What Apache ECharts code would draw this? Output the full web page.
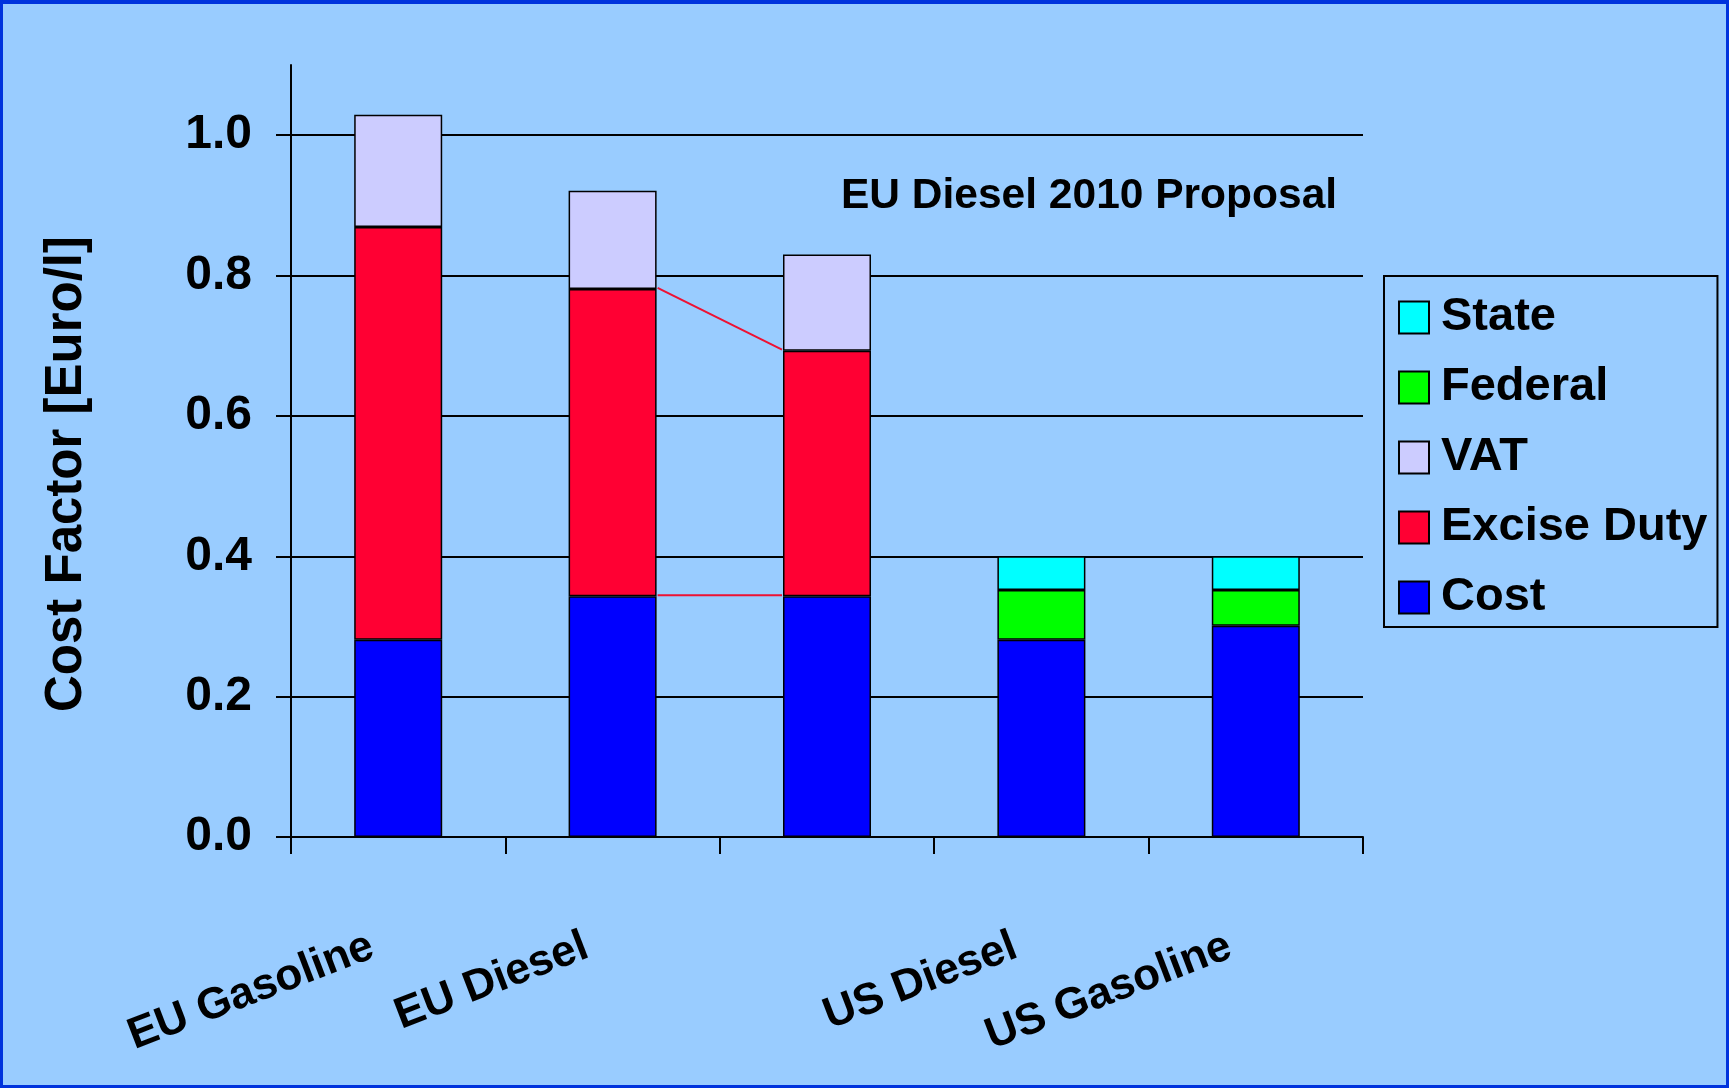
<!DOCTYPE html>
<html>
<head>
<meta charset="utf-8">
<script src="https://cdn.jsdelivr.net/npm/echarts@6/dist/echarts.min.js"></script>
<style>
  html, body { margin: 0; padding: 0; background: #99ccff; }
  #wrap { position: relative; width: 1729px; height: 1088px; }
  #chart { position: absolute; left: 0; top: 0; width: 1729px; height: 1088px; }
  #frame { position: absolute; left: 0; top: 0; right: 0; bottom: 0;
           border-style: solid; border-color: #0033dd; border-width: 4px 3px 3px 3px;
           pointer-events: none; }
</style>
</head>
<body>
<div id="wrap">
  <div id="chart"></div>
  <div id="frame"></div>
</div>
<script>
// categories (the third bar is the EU Diesel 2010 proposal, no axis label)
var categories = ['EU Gasoline', 'EU Diesel', '', 'US Diesel', 'US Gasoline'];

// stacked components, Euro/l
var costData    = [0.281, 0.343, 0.343, 0.281, 0.301];
var exciseData  = [0.588, 0.438, 0.350, null, null];
var vatData     = [0.160, 0.140, 0.137, null, null];
var federalData = [null, null, null, 0.071, 0.051];
var stateData   = [null, null, null, 0.048, 0.048];

var yTicks = [0, 0.2, 0.4, 0.6, 0.8, 1.0];

// series lines between EU Diesel and the proposal bar
var linkPairs = [[1, 2]];

var BAR_W = 88;
var FONT = '"Liberation Sans", Arial, sans-serif';

var connectorData = [];
linkPairs.forEach(function (p) {
    var a = p[0], b = p[1];
    connectorData.push([a, b, costData[a], costData[b]]);
    connectorData.push([a, b, costData[a] + exciseData[a], costData[b] + exciseData[b]]);
});

function renderConnector(params, api) {
    var p1 = api.coord([api.value(0), api.value(2)]);
    var p2 = api.coord([api.value(1), api.value(3)]);
    return {
        type: 'line',
        shape: { x1: p1[0] + BAR_W / 2 + 1, y1: p1[1] - 1, x2: p2[0] - BAR_W / 2 - 1, y2: p2[1] - 1 },
        style: { stroke: '#ee1133', lineWidth: 2 }
    };
}

function barSeries(name, color, data) {
    return {
        name: name,
        type: 'bar',
        stack: 'total',
        barWidth: BAR_W,
        data: data,
        itemStyle: { color: color, borderColor: '#000', borderWidth: 1.5 }
    };
}

var myChart = echarts.init(document.getElementById('chart'));

var option = {
    animation: false,
    backgroundColor: '#99ccff',
    textStyle: { fontFamily: FONT },
    title: {
        text: 'EU Diesel 2010 Proposal',
        left: 841,
        top: 175,
        padding: 0,
        textStyle: { fontFamily: FONT, fontSize: 42.5, fontWeight: 'bold', color: '#000' }
    },
    legend: {
        orient: 'vertical',
        left: 1384,
        top: 276,
        padding: [18, 10, 6, 14],
        itemWidth: 30,
        itemHeight: 32,
        itemGap: 23,
        borderColor: '#000',
        borderWidth: 2,
        icon: 'rect',
        data: ['State', 'Federal', 'VAT', 'Excise Duty', 'Cost'],
        textStyle: { fontFamily: FONT, fontSize: 47, fontWeight: 'bold', color: '#000',
                     lineHeight: 46, padding: [0, 0, 0, 7] }
    },
    grid: { left: 291, right: 366, top: 65, bottom: 251 },
    xAxis: {
        type: 'category',
        data: categories,
        axisLine: { lineStyle: { color: '#000', width: 2 } },
        axisTick: { show: true, interval: 0, length: 17, lineStyle: { color: '#000', width: 2 } },
        axisLabel: {
            interval: 0,
            rotate: 21,
            margin: 98,
            padding: [0, 28, 0, 0],
            color: '#000',
            fontFamily: FONT,
            fontSize: 44,
            fontWeight: 'bold'
        },
        splitLine: { show: false }
    },
    yAxis: {
        type: 'value',
        min: 0,
        max: 1.1,
        interval: 0.2,
        name: 'Cost Factor [Euro/l]',
        nameLocation: 'middle',
        nameGap: 199,
        nameTextStyle: { fontFamily: FONT, fontSize: 51, fontWeight: 'bold', color: '#000',
                         padding: [0, 46, 0, 0] },
        axisLine: { show: true, lineStyle: { color: '#000', width: 2 } },
        axisTick: { show: true, length: 15, customValues: yTicks, lineStyle: { color: '#000', width: 2 } },
        axisLabel: {
            customValues: yTicks,
            margin: 39,
            color: '#000',
            fontFamily: FONT,
            fontSize: 48,
            fontWeight: 'bold',
            formatter: function (v) { return v.toFixed(1); }
        },
        splitLine: { show: true, lineStyle: { color: '#000', width: 2 } }
    },
    series: [
        barSeries('Cost', '#0000ff', costData),
        barSeries('Excise Duty', '#ff0033', exciseData),
        barSeries('VAT', '#ccccff', vatData),
        barSeries('Federal', '#00ff00', federalData),
        barSeries('State', '#00ffff', stateData),
        {
            name: 'links',
            type: 'custom',
            renderItem: renderConnector,
            encode: { x: [0, 1], y: [2, 3] },
            data: connectorData,
            silent: true,
            z: 5
        }
    ]
};

myChart.setOption(option);
</script>
</body>
</html>
